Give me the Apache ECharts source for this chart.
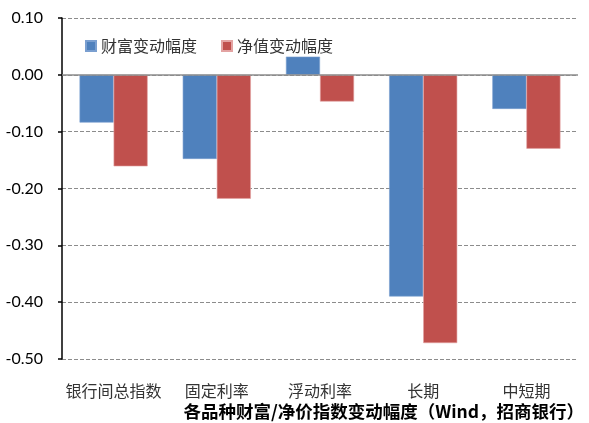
<!DOCTYPE html>
<html>
<head>
<meta charset="utf-8">
<script src="https://cdn.jsdelivr.net/npm/echarts@6/dist/echarts.min.js"></script>
<style>
  html, body { margin: 0; padding: 0; background: #fff; }
  #chart { width: 589px; height: 423px; }
</style>
</head>
<body>
<div id="chart"></div>
<script>
const categories = ['银行间总指数', '固定利率', '浮动利率', '长期', '中短期'];
const wealthChange = [-0.084, -0.148, 0.032, -0.390, -0.060];
const navChange = [-0.161, -0.218, -0.047, -0.472, -0.130];
const seriesNames = ['财富变动幅度', '净值变动幅度'];
const chartTitle = '各品种财富/净价指数变动幅度（Wind，招商银行）';

const cjk = 'Lato, "Noto Sans CJK SC", sans-serif';

const myChart = echarts.init(document.getElementById('chart'));
const option = {
  animation: false,
  backgroundColor: '#fff',
  title: {
    text: chartTitle,
    right: 5,
    top: 403,
    padding: 0,
    textStyle: { fontFamily: '"Noto Sans CJK SC", sans-serif', fontSize: 17.5, fontWeight: 'bold', color: '#000' }
  },
  legend: {
    left: 80,
    top: 33,
    itemWidth: 10,
    itemHeight: 10,
    itemGap: 24,
    icon: 'rect',
    textStyle: { fontFamily: '"Noto Sans CJK SC", sans-serif', fontSize: 16, color: '#333' },
    data: seriesNames
  },
  grid: { left: 62, right: 11, top: 18, bottom: 64 },
  xAxis: {
    type: 'category',
    data: categories,
    axisLine: { show: false },
    axisTick: { show: false },
    axisLabel: { interval: 0, margin: 24, fontFamily: '"Noto Sans CJK SC", sans-serif', fontSize: 16, color: '#333' }
  },
  yAxis: {
    type: 'value',
    min: -0.5,
    max: 0.1,
    interval: 0.1,
    axisLine: { show: true, lineStyle: { color: '#000', width: 1.5 } },
    axisTick: { show: true, length: 4, lineStyle: { color: '#000', width: 1.5 } },
    axisLabel: {
      margin: 19,
      fontFamily: cjk,
      fontSize: 16,
      color: '#000',
      formatter: v => v.toFixed(2)
    },
    splitLine: { show: true, lineStyle: { color: '#8c8c8c', type: [4, 2], width: 1 } }
  },
  series: [
    {
      name: seriesNames[0],
      type: 'bar',
      data: wealthChange,
      barGap: '0%',
      barCategoryGap: '34%',
      itemStyle: { color: '#4F81BD', borderColor: '#7A9FD0', borderWidth: 0.6 },
      markLine: {
        silent: true,
        symbol: 'none',
        label: { show: false },
        lineStyle: { color: '#8c8c8c', type: 'solid', width: 1.5 },
        data: [{ yAxis: 0 }]
      }
    },
    {
      name: seriesNames[1],
      type: 'bar',
      data: navChange,
      itemStyle: { color: '#C0504D', borderColor: '#E3A3A2', borderWidth: 0.6 }
    }
  ]
};
myChart.setOption(option);
window.addEventListener('resize', () => myChart.resize());
</script>
</body>
</html>
